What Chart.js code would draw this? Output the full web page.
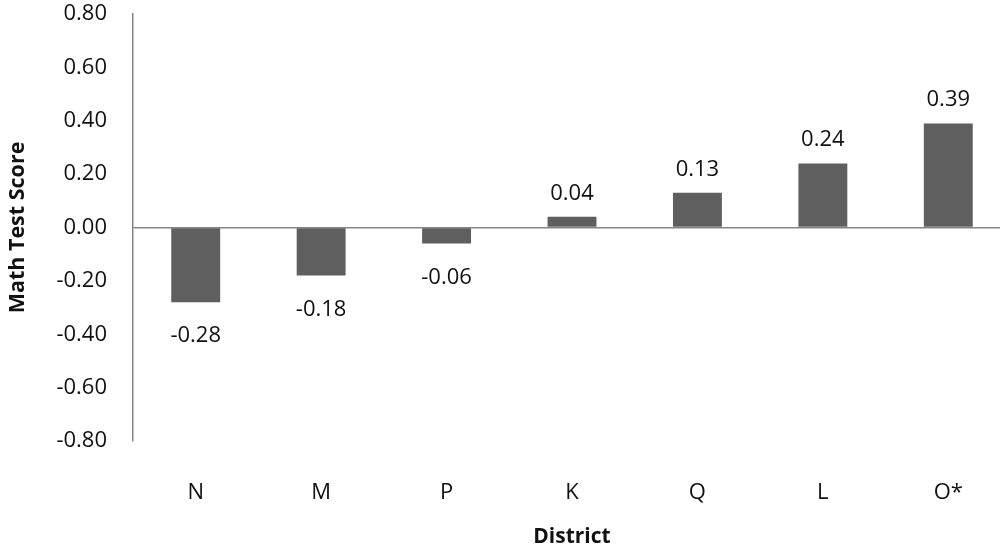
<!DOCTYPE html>
<html>
<head>
<meta charset="utf-8">
<script src="https://cdn.jsdelivr.net/npm/chart.js@4/dist/chart.umd.min.js"></script>
<style>
  html, body { margin: 0; padding: 0; overflow: hidden; background: #fff; }
  #wrap { width: 1011px; height: 550px; }
</style>
</head>
<body>
<div id="wrap"><canvas id="c"></canvas></div>
<script>
// District results
const districts = ['N', 'M', 'P', 'K', 'Q', 'L', 'O*'];
const scores = [-0.28, -0.18, -0.06, 0.04, 0.13, 0.24, 0.39];

const yMin = -0.8, yMax = 0.8, yStep = 0.2;

const FONT = '"Open Sans", sans-serif';
const axisGray = '#868686';

// Value labels above positive bars, below negative ones
const valueLabels = {
  id: 'valueLabels',
  afterDatasetsDraw(chart) {
    const ctx = chart.ctx;
    const meta = chart.getDatasetMeta(0);
    ctx.save();
    ctx.font = '22px ' + FONT;
    ctx.fillStyle = '#111';
    ctx.textAlign = 'center';
    ctx.textBaseline = 'alphabetic';
    meta.data.forEach((bar, i) => {
      const v = scores[i];
      const y = v >= 0 ? bar.y - 17 : bar.y + 40;
      ctx.fillText(v.toFixed(2), bar.x, y);
    });
    ctx.restore();
  }
};

new Chart(document.getElementById('c'), {
  type: 'bar',
  data: {
    labels: districts,
    datasets: [{
      data: scores,
      backgroundColor: '#5f5f5f',
      borderWidth: 0,
      barPercentage: 0.39,
      categoryPercentage: 1.0
    }]
  },
  options: {
    responsive: true,
    maintainAspectRatio: false,
    animation: false,
    layout: { padding: { top: 14, right: 0, bottom: 0, left: 0 } },
    plugins: { legend: { display: false }, tooltip: { enabled: false } },
    scales: {
      x: {
        grid: { display: false },
        border: { display: false },
        ticks: { color: '#111', font: { family: FONT, size: 22 }, padding: 31, maxRotation: 0 },
        title: {
          display: true, text: 'District', color: '#111',
          font: { family: FONT, size: 21, weight: 'bold' },
          padding: { top: 4, bottom: 0 }
        },
        afterFit(scale) { scale.height = 109; }
      },
      y: {
        min: yMin, max: yMax,
        grid: {
          drawTicks: false,
          color: (c) => (c.tick && Math.abs(c.tick.value) < 1e-9) ? axisGray : 'rgba(0,0,0,0)',
          lineWidth: 1.5
        },
        border: { display: true, color: axisGray, width: 1.5 },
        ticks: {
          stepSize: yStep, color: '#111', padding: 26,
          font: { family: FONT, size: 22 },
          callback: (v) => Number(v).toFixed(2)
        },
        title: {
          display: true, text: 'Math Test Score', color: '#111',
          font: { family: FONT, size: 21.5, weight: 'bold' },
          padding: { top: 5, bottom: 0 }
        },
        afterFit(scale) {
          scale.width = 133;
          scale.paddingTop = 0;
          scale.paddingBottom = 0;
        }
      }
    }
  },
  plugins: [valueLabels]
});
</script>
</body>
</html>
